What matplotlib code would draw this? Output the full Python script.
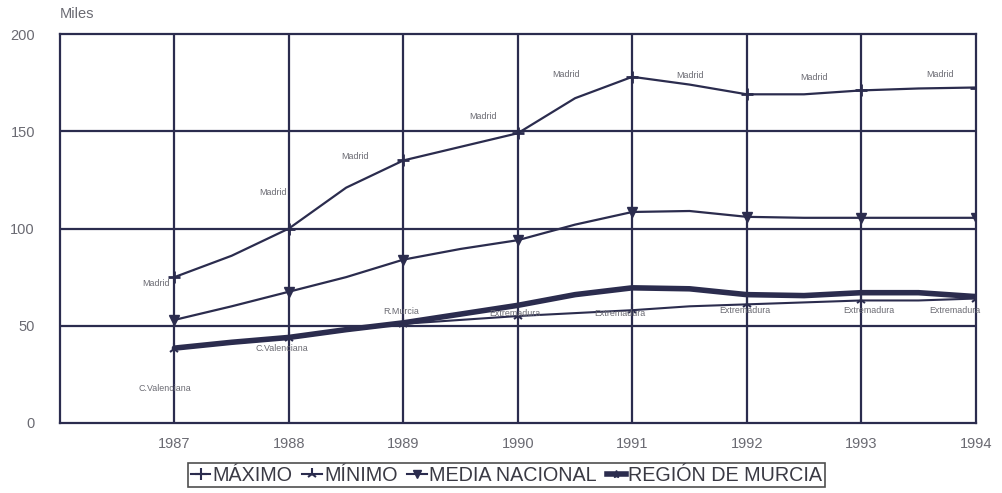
import numpy as np
import matplotlib.pyplot as plt
from matplotlib.lines import Line2D

# ---------- data (miles) ----------
years = [1987, 1988, 1989, 1990, 1991, 1992, 1993, 1994]
# curve read every half year, markers drawn on the whole years
x_half = [1987, 1987.5, 1988, 1988.5, 1989, 1989.5, 1990, 1990.5,
          1991, 1991.5, 1992, 1992.5, 1993, 1993.5, 1994]
maximo = [75, 86, 100, 121, 135, 142, 149, 167, 178, 174, 169, 169, 171, 172, 172.5]
media = [53, 60, 67.5, 75, 84, 89.5, 94, 102, 108.5, 109, 106, 105.5, 105.5, 105.5, 105.5]
minimo = [38, 41, 43.5, 47.5, 51, 53, 55, 56.5, 58, 60, 61, 62, 63, 63, 64]
murcia = [38.5, 41.5, 44, 48, 51.5, 56, 60.5, 66, 69.5, 69, 66, 65.5, 67, 67, 65]

max_labels = ["Madrid"] * 8
min_labels = ["C.Valenciana", "C.Valenciana", "R.Murcia", "Extremadura",
              "Extremadura", "Extremadura", "Extremadura", "Extremadura"]

yticks = [0, 50, 100, 150, 200]

# ---------- style ----------
ink = "#2b2c4e"
grey = "#6a6a72"
plt.rcParams["font.family"] = ["Liberation Sans", "DejaVu Sans"]

fig = plt.figure(figsize=(10.03, 4.93), dpi=100)
ax = fig.add_axes([0.0598, 0.142, 0.913, 0.789])

ax.set_xlim(1986, 1994)
ax.set_ylim(0, 200)
ax.set_yticks(yticks)
ax.set_xticks(years)
ax.tick_params(length=0, labelsize=10.5, colors=grey, pad=10)
ax.tick_params(axis="y", pad=18)
for s in ax.spines.values():
    s.set_color(ink)
    s.set_linewidth(1.6)

# grid
for y in yticks[1:-1]:
    ax.axhline(y, color=ink, lw=1.6, zorder=1)
for x in years[:-1]:
    ax.axvline(x, color=ink, lw=1.6, zorder=1)

every = list(range(0, len(x_half), 2))
ax.plot(x_half, maximo, color=ink, lw=1.6, marker="+", ms=9, mew=2,
        markevery=every, zorder=3)
ax.plot(x_half, media, color=ink, lw=1.6, marker="v", ms=7,
        markevery=every, zorder=3)
ax.plot(x_half, minimo, color=ink, lw=1.5, marker="2", ms=8, mew=1.5,
        markevery=every, zorder=3)
ax.plot(x_half, murcia, color=ink, lw=4.0, solid_capstyle="round", zorder=4)

# point labels (offsets in pixels from the yearly point)
max_off = [(-5, -6), (-16, 36), (-48, 4), (-35, 17), (-66, 2), (-57, 19), (-47, 13), (-36, 13)]
min_off = [(-10, -39), (-7, -10), (-2, 12), (-3, 3), (-12, -3), (-2, -6), (8, -10), (-21, -12)]
yr_max = [maximo[i] for i in every]
yr_min = [minimo[i] for i in every]
for i, yr in enumerate(years):
    ha = "right" if i == 0 else "center"
    ax.annotate(max_labels[i], (yr, yr_max[i]), xytext=max_off[i],
                textcoords="offset pixels", fontsize=6.4, color=grey,
                ha=ha, va="center", zorder=5)
    ax.annotate(min_labels[i], (yr, yr_min[i]), xytext=min_off[i],
                textcoords="offset pixels", fontsize=6.4, color=grey,
                ha="center", va="center", zorder=5)

fig.text(0.0598, 0.972, "Miles", fontsize=10.5, color=grey, va="center")

# legend
handles = [
    Line2D([0], [0], color=ink, lw=1.5, marker="+", ms=9, mew=1.5),
    Line2D([0], [0], color=ink, lw=1.5, marker="2", ms=8, mew=1.5),
    Line2D([0], [0], color=ink, lw=1.5, marker="v", ms=6),
    Line2D([0], [0], color=ink, lw=4, marker="*", ms=6),
]
labels = ["MÁXIMO", "MÍNIMO", "MEDIA NACIONAL", "REGIÓN DE MURCIA"]
leg = fig.legend(handles, labels, loc="center", bbox_to_anchor=(0.505, 0.036),
                 ncol=4, fontsize=14.2, frameon=True, fancybox=False,
                 handlelength=1.0, handletextpad=0.1, columnspacing=0.5,
                 borderpad=0.12, borderaxespad=0)
leg.get_frame().set_edgecolor("#222222")
leg.get_frame().set_linewidth(1.2)
for t in leg.get_texts():
    t.set_color("#3a3a44")

fig.savefig("out.png", dpi=100)
